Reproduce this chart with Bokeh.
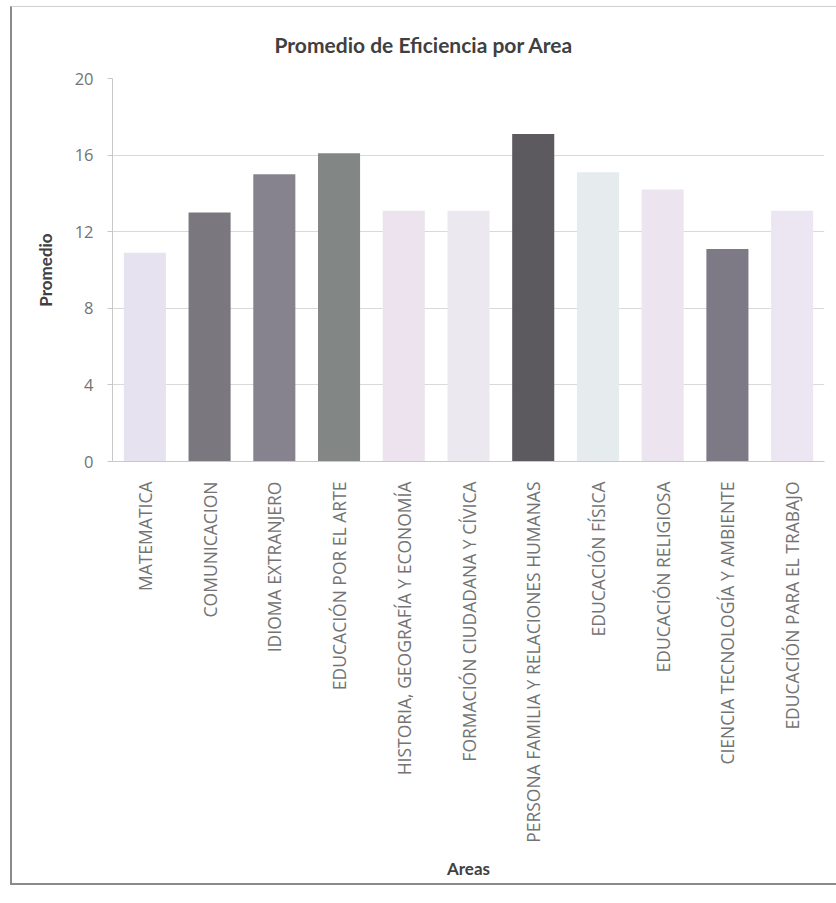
from bokeh.plotting import figure
from bokeh.models import FactorRange, FixedTicker, ColumnDataSource
from bokeh.embed import file_html
from bokeh.resources import INLINE
import math

areas = [
    "MATEMATICA",
    "COMUNICACION",
    "IDIOMA EXTRANJERO",
    "EDUCACIÓN POR EL ARTE",
    "HISTORIA, GEOGRAFÍA Y ECONOMÍA",
    "FORMACIÓN CIUDADANA Y CÍVICA",
    "PERSONA FAMILIA Y RELACIONES HUMANAS",
    "EDUCACIÓN FÍSICA",
    "EDUCACIÓN RELIGIOSA",
    "CIENCIA TECNOLOGÍA Y AMBIENTE",
    "EDUCACIÓN PARA EL TRABAJO",
]
promedio = [10.9, 13.0, 15.0, 16.1, 13.1, 13.1, 17.1, 15.1, 14.2, 11.1, 13.1]
colores = [
    "#e6e2ef", "#7a787e", "#86838f", "#828785", "#ece3ee", "#ebe8f0",
    "#5c595f", "#e6ebee", "#ece4ef", "#7d7a86", "#ebe6f1",
]
y_ticks = [0, 4, 8, 12, 16, 20]

src = ColumnDataSource(dict(area=areas, promedio=promedio, color=colores))

p = figure(
    x_range=FactorRange(*areas, range_padding=0),
    y_range=(0, 20),
    width=826, height=879,
    output_backend="svg", toolbar_location=None,
    title="Promedio de Eficiencia por Area",
)
p.margin = (6, 0, 0, 10)
p.styles = {"border-left": "2px solid #8a8a8a", "border-top": "1px solid #cfcfcf",
            "border-bottom": "2px solid #8a8a8a"}
p.min_border_left = 100
p.min_border_right = 14
p.min_border_top = 71
p.min_border_bottom = 425

p.vbar(x="area", top="promedio", width=0.65, fill_color="color", line_color=None, source=src)

p.title.text_font = "Lato"
p.title.text_font_size = "21px"
p.title.text_font_style = "bold"
p.title.text_color = "#404040"
p.title.align = "left"
p.title.offset = 162
p.title.standoff = 43

p.outline_line_color = None
p.background_fill_color = "white"
p.border_fill_color = "white"

p.xgrid.grid_line_color = None
p.ygrid.grid_line_color = "#d9d9d9"
p.yaxis.ticker = FixedTicker(ticks=y_ticks)
p.yaxis.axis_label = "Promedio"
p.xaxis.axis_label = "Areas"
for ax in (p.xaxis, p.yaxis):
    ax.axis_label_text_font = "Lato"
    ax.axis_label_text_font_size = "17px"
    ax.axis_label_text_font_style = "bold"
    ax.axis_label_text_color = "#404040"
    ax.major_label_text_font = "Open Sans"
    ax.major_label_text_color = "#737373"
    ax.minor_tick_line_color = None
    ax.axis_line_color = "#c8c8c8"

p.yaxis.major_tick_line_color = "#c8c8c8"
p.yaxis.major_tick_out = 5
p.yaxis.major_tick_in = 0
p.xaxis.major_tick_line_color = None
p.yaxis.major_label_text_font_size = "16.5px"
p.yaxis.major_label_standoff = 14
p.yaxis.axis_label_standoff = 16
p.xaxis.major_label_text_font_size = "17.5px"
p.xaxis.major_label_orientation = math.pi / 2
p.xaxis.major_label_standoff = 14
p.xaxis.axis_label_standoff = 12

open("out.html", "w").write(file_html(p, INLINE))
